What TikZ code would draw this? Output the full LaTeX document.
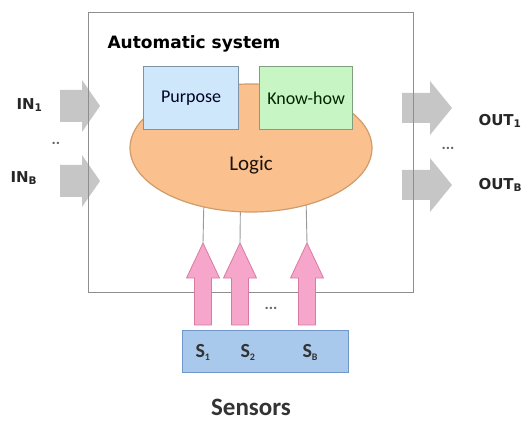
\documentclass[tikz,border=0pt]{standalone}
\usepackage{fontspec}
\setmainfont{Carlito}
\newfontfamily\labelfont{DejaVu Sans}
\usetikzlibrary{shapes.geometric}

\definecolor{framegray}{HTML}{8E8E8E}
\definecolor{purposefill}{HTML}{CFE7FA}
\definecolor{purposeline}{HTML}{7F93A6}
\definecolor{knowfill}{HTML}{C8F5C4}
\definecolor{knowline}{HTML}{7FA07F}
\definecolor{logicfill}{HTML}{FAC08D}
\definecolor{logicline}{HTML}{CF9C6C}
\definecolor{pinkfill}{HTML}{F6A6CA}
\definecolor{pinkline}{HTML}{D87BA3}
\definecolor{sensorfill}{HTML}{A8C8EC}
\definecolor{sensorline}{HTML}{7097C7}
\definecolor{ioarrow}{HTML}{C6C6C6}

\tikzset{
  sysframe/.style={draw=framegray, line width=1.4pt, inner sep=0pt},
  partbox/.style={line width=1.2pt, inner sep=0pt, minimum width=95pt, minimum height=63pt},
  boxtext/.style={font=\fontsize{18}{20}\selectfont, text=#1},
  pinkarrow/.style={fill=pinkfill, draw=pinkline, line width=0.8pt, line join=round},
  ioblock/.style={fill=ioarrow, draw=none},
  iolabel/.style={font=\labelfont\bfseries\fontsize{15}{16}\selectfont, text=black!85},
  slabel/.style={font=\bfseries\fontsize{20}{22}\selectfont, text=black!80, anchor=west},
  wire/.style={draw=gray!80, line width=0.9pt},
  dots/.style={font=\bfseries\fontsize{16}{16}\selectfont, text=black!60}
}

% upward block arrow: name, x of tip, y of tip
\newcommand\sensorblock[3]{%
  \coordinate (#1) at (#2,#3);
  \draw[pinkarrow] (#1) -- ++(16.5,35) -- ++(-8,0) -- ++(0,47) -- ++(-17,0)
    -- ++(0,-47) -- ++(-8,0) -- cycle;}

% rightward block arrow: name, tip x, tip y, head length, head half width,
% shaft half width, total length
\newcommand\rightblock[7]{%
  \coordinate (#1) at (#2,#3);
  \fill[ioblock] (#1) -- ++(-#4,-#5) -- ++(0,{#5-#6}) -- ++({-(#7-#4)},0)
    -- ++(0,{2*#6}) -- ++({#7-#4},0) -- ++(0,{#5-#6}) -- cycle;}

\begin{document}
\begin{tikzpicture}[x=1pt, y=-1pt]
\useasboundingbox (0,0) rectangle (528,425);

% input and output arrows, underneath the frame line
\rightblock{in1}{100}{106}{18}{26}{16}{40}
\rightblock{inb}{100}{181}{18}{26}{16}{40}
\rightblock{out1}{452}{108}{22}{27}{15}{50}
\rightblock{outb}{452}{185}{22}{27}{15}{50}

% system frame
\node[sysframe, minimum width=325pt, minimum height=280pt, anchor=north west] (sys) at (88,12) {};
\node[font=\labelfont\bfseries\fontsize{17}{18}\selectfont, anchor=west] (title) at (104,44) {Automatic system};

% sensor arrows
\sensorblock{a1}{203}{243}
\sensorblock{a2}{240}{243}
\sensorblock{a3}{307}{243}

% wires from logic down to the sensor arrows
\coordinate (w1) at (205,150);
\coordinate (w2) at (241,150);
\coordinate (w3) at (305,150);
\draw[wire] (w1) -- (a1);
\draw[wire] (w2) -- (a2);
\draw[wire] (w3) -- (a3);

% logic core
\node[ellipse, fill=logicfill, draw=logicline, line width=1.2pt, minimum width=242pt, minimum height=128pt, inner sep=0pt] (logic) at (251,148) {};
\node[font=\fontsize{21}{22}\selectfont, text=black!85!brown] (logictext) at (251,165) {Logic};

% purpose and know-how blocks
\node[partbox, fill=purposefill, draw=purposeline, anchor=north west] (purpose) at (143,66) {};
\node[boxtext=black!85!blue] at (purpose.center) {Purpose};
\node[partbox, fill=knowfill, draw=knowline, minimum width=93pt, anchor=north west] (know) at (259,66) {};
\node[boxtext=black!85!green] at (know.center) {Know-how};

% sensor bar
\node[fill=sensorfill, draw=sensorline, line width=1pt, minimum width=166pt, minimum height=42pt, inner sep=0pt, anchor=north west] (sensors) at (182,330) {};
\node[slabel] (s1) at (192,352) {S\textsubscript{\fontsize{10}{10}\selectfont 1}};
\node[slabel] (s2) at (237,352) {S\textsubscript{\fontsize{10}{10}\selectfont 2}};
\node[slabel] (s3) at (299,352) {S\textsubscript{\fontsize{10}{10}\selectfont B}};
\node[dots] (sdots) at (271,308) {...};
\node[font=\bfseries\fontsize{25}{28}\selectfont, text=black!80] (senslabel) at (251,407) {Sensors};

% input and output labels
\node[iolabel, anchor=west] (in1l) at (13,105) {IN\textsubscript{1}};
\node[iolabel, anchor=west] (inbl) at (7,178) {IN\textsubscript{B}};
\node[dots] (indots) at (56,143) {..};
\node[iolabel, anchor=west] (out1l) at (475,121) {OUT\textsubscript{1}};
\node[iolabel, anchor=west] (outbl) at (475,185) {OUT\textsubscript{B}};
\node[dots] (outdots) at (448,148) {...};
\end{tikzpicture}
\end{document}
